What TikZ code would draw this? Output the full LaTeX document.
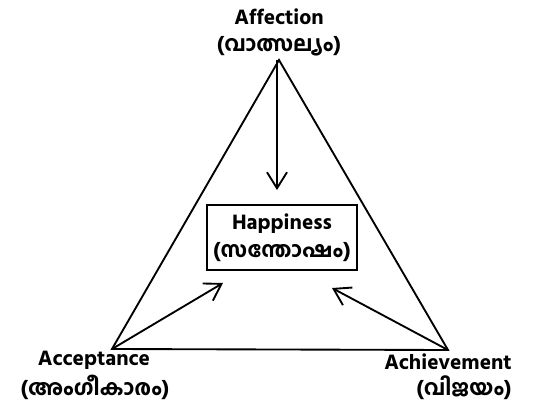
\documentclass[tikz,border=0pt]{standalone}
\usepackage{fontspec}
\setmainfont{Hind Kochi}[Script=Malayalam,BoldFont=* Bold]
\usetikzlibrary{arrows.meta}
\begin{document}
\begin{tikzpicture}[x=0.75pt,y=-0.75pt,
  edge/.style={line width=1.4pt},
  arr/.style={line width=1.4pt,-{Straight Barb[length=12pt,width=15pt,line width=1.4pt]}},
  lbl/.style={font=\bfseries\fontsize{16}{20}\selectfont,align=center,inner sep=0pt},
  hbox/.style={draw,line width=1.4pt,minimum width=150*0.75pt,minimum height=65*0.75pt,inner sep=0pt,align=center,font=\bfseries\fontsize{16}{21}\selectfont}]
\useasboundingbox (0,0) rectangle (533,408);
\coordinate (A) at (279,60);
\coordinate (L) at (112,349);
\coordinate (R) at (448,350);
\draw[edge,line join=miter] (A) -- (L) -- (R) -- cycle;
\node[hbox] (H) at (282,237.5) {Happiness\\(സന്തോഷം)};
\coordinate (Ta) at (277,190);
\coordinate (Tl) at (223,283);
\coordinate (Tr) at (332,288);
\draw[arr] (A -| Ta) -- (Ta);
\draw[arr] (L) -- (Tl);
\draw[arr] (R) -- (Tr);
\node[lbl] (af1) at (279,17) {Affection};
\node[lbl] (af2) at (279,46) {(വാത്സല്യം)};
\node[lbl] (ac1) at (94,360) {Acceptance};
\node[lbl] (ac2) at (95,387) {(അംഗീകാരം)};
\node[lbl] (ah1) at (448,362) {Achievement};
\node[lbl] (ah2) at (464,388) {(വിജയം)};
\end{tikzpicture}
\end{document}
